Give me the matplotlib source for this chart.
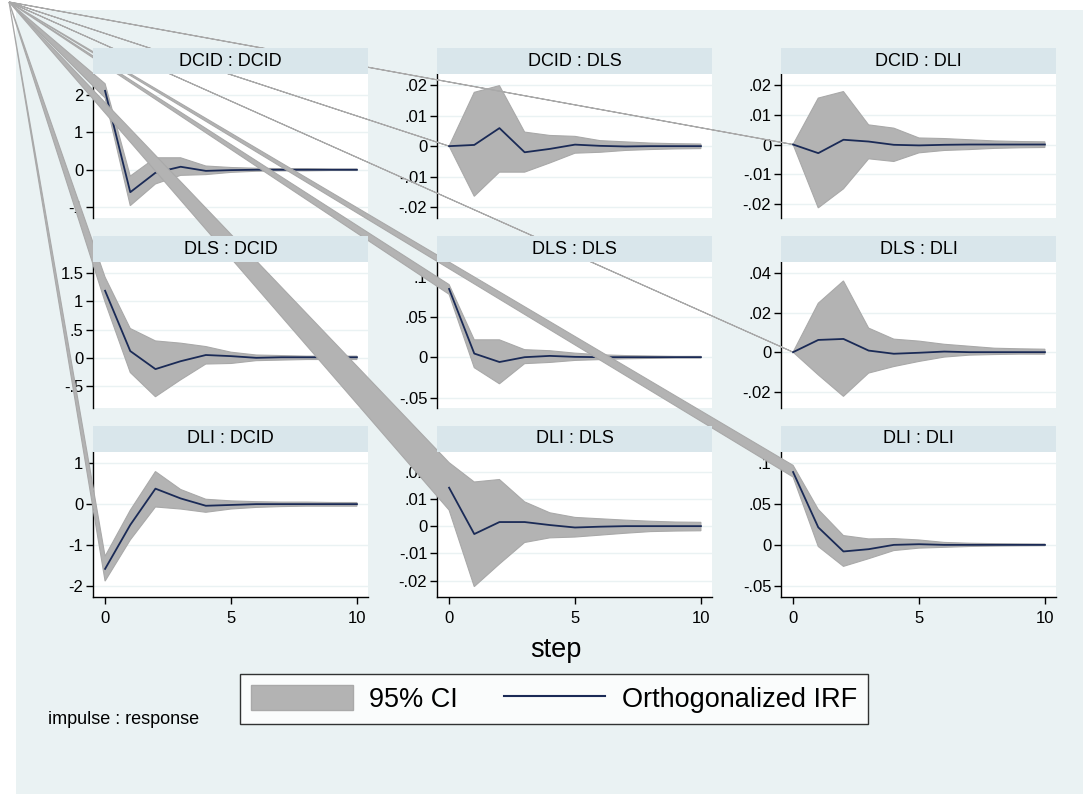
"""Stata-style orthogonalized IRF grid (3x3) with the corner wedge artefact."""

import matplotlib
matplotlib.use("Agg")
import matplotlib.pyplot as plt
from matplotlib.patches import Polygon, Rectangle, Patch
from matplotlib.lines import Line2D
from matplotlib.ticker import FixedLocator, FuncFormatter

plt.rcParams["font.family"] = ["Liberation Sans", "DejaVu Sans"]

BG = "#EAF2F3"
STRIP = "#D9E6EB"
CI_GREY = "#B3B3B3"
CI_EDGE = "#A9A9A9"
NAVY = "#1A2A56"

W, H = 1083, 794

STEPS = list(range(11))
VARS = ["DCID", "DLS", "DLI"]

# impulse DCID
IRF_DCID_DCID = [2.11, -0.60, -0.08, 0.08, -0.03, -0.01, 0.0, 0.0, 0.0, 0.0, 0.0]
HI_DCID_DCID = [2.30, -0.17, 0.32, 0.32, 0.10, 0.06, 0.04, 0.03, 0.03, 0.02, 0.02]
LO_DCID_DCID = [1.92, -0.96, -0.38, -0.15, -0.13, -0.07, -0.04, -0.03, -0.03, -0.02, -0.02]

IRF_DCID_DLS = [0.0, 0.0004, 0.0059, -0.0020, -0.0009, 0.0005, 0.0001, -0.0001, 0.0, 0.0, 0.0]
HI_DCID_DLS = [0.0, 0.0176, 0.0198, 0.0046, 0.0035, 0.0032, 0.0018, 0.0014, 0.0010, 0.0008, 0.0007]
LO_DCID_DLS = [0.0, -0.0164, -0.0085, -0.0085, -0.0055, -0.0023, -0.0020, -0.0014, -0.0011, -0.0009, -0.0008]

IRF_DCID_DLI = [0.0, -0.0029, 0.0016, 0.0010, -0.0001, -0.0003, -0.0001, 0.0, 0.0, 0.0, 0.0]
HI_DCID_DLI = [0.0, 0.0156, 0.0178, 0.0066, 0.0055, 0.0022, 0.0020, 0.0016, 0.0012, 0.0010, 0.0009]
LO_DCID_DLI = [0.0, -0.0213, -0.0149, -0.0048, -0.0057, -0.0028, -0.0020, -0.0017, -0.0013, -0.0011, -0.0010]

# impulse DLS
IRF_DLS_DCID = [1.19, 0.12, -0.20, -0.06, 0.05, 0.03, 0.0, 0.01, 0.01, 0.01, 0.01]
HI_DLS_DCID = [1.43, 0.52, 0.30, 0.26, 0.20, 0.10, 0.05, 0.04, 0.03, 0.03, 0.03]
LO_DLS_DCID = [0.99, -0.26, -0.69, -0.39, -0.11, -0.10, -0.05, -0.04, -0.03, -0.03, -0.03]

IRF_DLS_DLS = [0.0846, 0.0045, -0.0060, 0.0, 0.0016, 0.0004, 0.0, 0.0, 0.0, 0.0, 0.0]
HI_DLS_DLS = [0.0900, 0.0215, 0.0215, 0.0093, 0.0080, 0.0050, 0.0030, 0.0020, 0.0015, 0.0010, 0.0010]
LO_DLS_DLS = [0.0780, -0.0130, -0.0330, -0.0080, -0.0065, -0.0040, -0.0030, -0.0020, -0.0015, -0.0010, -0.0010]

IRF_DLS_DLI = [0.0, 0.0062, 0.0067, 0.0008, -0.0008, -0.0003, 0.0003, 0.0, 0.0, 0.0, 0.0]
HI_DLS_DLI = [0.0, 0.0248, 0.0361, 0.0122, 0.0066, 0.0056, 0.0040, 0.0030, 0.0020, 0.0017, 0.0015]
LO_DLS_DLI = [0.0, -0.0115, -0.0224, -0.0106, -0.0073, -0.0047, -0.0025, -0.0015, -0.0012, -0.0010, -0.0010]

# impulse DLI
IRF_DLI_DCID = [-1.59, -0.51, 0.38, 0.14, -0.04, -0.02, 0.0, 0.0, 0.0, 0.0, 0.0]
HI_DLI_DCID = [-1.28, -0.15, 0.80, 0.36, 0.12, 0.08, 0.06, 0.05, 0.05, 0.04, 0.04]
LO_DLI_DCID = [-1.89, -0.88, -0.07, -0.12, -0.20, -0.12, -0.08, -0.06, -0.05, -0.05, -0.05]

IRF_DLI_DLS = [0.0141, -0.0029, 0.0015, 0.0015, 0.0004, -0.0005, -0.0002, 0.0, 0.0, 0.0, 0.0]
HI_DLI_DLS = [0.0233, 0.0162, 0.0171, 0.0089, 0.0049, 0.0032, 0.0027, 0.0022, 0.0018, 0.0015, 0.0014]
LO_DLI_DLS = [0.0059, -0.0222, -0.0139, -0.0060, -0.0043, -0.0040, -0.0033, -0.0026, -0.0020, -0.0018, -0.0017]

IRF_DLI_DLI = [0.0894, 0.0215, -0.0081, -0.0053, 0.0, 0.0008, 0.0, 0.0, 0.0, 0.0, 0.0]
HI_DLI_DLI = [0.0976, 0.0435, 0.0114, 0.0073, 0.0077, 0.0060, 0.0030, 0.0020, 0.0015, 0.0012, 0.0010]
LO_DLI_DLI = [0.0833, -0.0020, -0.0264, -0.0170, -0.0070, -0.0040, -0.0030, -0.0020, -0.0015, -0.0012, -0.0010]

PANELS = [
    (IRF_DCID_DCID, LO_DCID_DCID, HI_DCID_DCID),
    (IRF_DCID_DLS, LO_DCID_DLS, HI_DCID_DLS),
    (IRF_DCID_DLI, LO_DCID_DLI, HI_DCID_DLI),
    (IRF_DLS_DCID, LO_DLS_DCID, HI_DLS_DCID),
    (IRF_DLS_DLS, LO_DLS_DLS, HI_DLS_DLS),
    (IRF_DLS_DLI, LO_DLS_DLI, HI_DLS_DLI),
    (IRF_DLI_DCID, LO_DLI_DCID, HI_DLI_DCID),
    (IRF_DLI_DLS, LO_DLI_DLS, HI_DLI_DLS),
    (IRF_DLI_DLI, LO_DLI_DLI, HI_DLI_DLI),
]

Y_TICKS = [
    [-1, 0, 1, 2],
    [-0.02, -0.01, 0, 0.01, 0.02],
    [-0.02, -0.01, 0, 0.01, 0.02],
    [-0.5, 0, 0.5, 1, 1.5],
    [-0.05, 0, 0.05, 0.1],
    [-0.02, 0, 0.02, 0.04],
    [-2, -1, 0, 1],
    [-0.02, -0.01, 0, 0.01, 0.02],
    [-0.05, 0, 0.05, 0.1],
]
Y_LIMS = [
    (-1.29, 2.56),
    (-0.0235, 0.0236),
    (-0.0247, 0.0237),
    (-0.89, 1.70),
    (-0.063, 0.118),
    (-0.0283, 0.0457),
    (-2.28, 1.28),
    (-0.026, 0.0272),
    (-0.064, 0.114),
]
X_TICKS = [0, 5, 10]

# pixel layout of the plot regions
COL_LEFT = [93, 437, 781]
ROW_TOP = [74, 262, 452]
ROW_H = [144, 146, 145]
PANEL_W = 275
STRIP_H = 26
CORNER = (9, 2)


def stata_label(v, _pos=None):
    if abs(v) < 1e-12:
        return "0"
    s = f"{v:g}"
    return s.replace("-0.", "-.").replace("0.", ".") if abs(v) < 1 else s


def main():
    fig = plt.figure(figsize=(W / 100, H / 100), dpi=100)
    fig.patch.set_facecolor("white")
    fig.patches.append(
        Rectangle((16 / W, 0), 1 - 16 / W, 1 - 10 / H, transform=fig.transFigure,
                  facecolor=BG, edgecolor="none", zorder=-5)
    )

    corner_disp = fig.transFigure.transform((CORNER[0] / W, 1 - CORNER[1] / H))

    for k, (irf, lo, hi) in enumerate(PANELS):
        r, c = divmod(k, 3)
        left = COL_LEFT[c] / W
        bottom = 1 - (ROW_TOP[r] + ROW_H[r]) / H
        ax = fig.add_axes([left, bottom, PANEL_W / W, ROW_H[r] / H])
        ax.set_facecolor("white")
        ax.set_xlim(-0.48, 10.44)
        ax.set_ylim(*Y_LIMS[k])

        ax.yaxis.set_major_locator(FixedLocator(Y_TICKS[k]))
        ax.yaxis.set_major_formatter(FuncFormatter(stata_label))
        ax.grid(axis="y", color=BG, linewidth=1.0, zorder=0)
        ax.set_axisbelow(True)

        for side in ("top", "right"):
            ax.spines[side].set_visible(False)
        ax.spines["left"].set_linewidth(1.0)
        ax.tick_params(axis="y", labelsize=12, length=5, width=1, pad=2)

        if r == 2:
            ax.xaxis.set_major_locator(FixedLocator(X_TICKS))
            ax.tick_params(axis="x", labelsize=12, length=5, width=1, pad=5)
            ax.spines["bottom"].set_linewidth(1.0)
        else:
            ax.spines["bottom"].set_visible(False)
            ax.set_xticks([])

        # CI area; the polygon also carries the graph corner vertex (rendering artefact)
        corner = ax.transData.inverted().transform(corner_disp)
        verts = [tuple(corner)] + list(zip(STEPS, hi)) + list(zip(STEPS[::-1], lo[::-1]))
        ax.add_patch(Polygon(verts, closed=True, facecolor=CI_GREY, edgecolor=CI_EDGE,
                             linewidth=0.8, clip_on=False, zorder=3))
        ax.plot(STEPS, irf, color=NAVY, linewidth=1.3, zorder=4)

    # title strips sit on top of everything
    for k in range(len(PANELS)):
        r, c = divmod(k, 3)
        x0 = COL_LEFT[c] / W
        y0 = 1 - ROW_TOP[r] / H
        fig.patches.append(
            Rectangle((x0, y0), PANEL_W / W, STRIP_H / H, transform=fig.transFigure,
                      facecolor=STRIP, edgecolor="none", zorder=10)
        )
        fig.text(x0 + PANEL_W / W / 2, y0 + STRIP_H / H / 2, f"{VARS[r]} : {VARS[c]}",
                 ha="center", va="center", fontsize=13, zorder=11)

    fig.text(556 / W, 1 - 650 / H, "step", ha="center", va="center", fontsize=19.5)
    fig.text(48 / W, 1 - 720 / H, "impulse : response", ha="left", va="center", fontsize=13)

    handles = [
        Patch(facecolor=CI_GREY, edgecolor=CI_EDGE, linewidth=1.0),
        Line2D([], [], color=NAVY, linewidth=1.5),
    ]
    leg = fig.legend(handles, ["95% CI", "Orthogonalized IRF"], loc="center",
                     bbox_to_anchor=(554 / W, 1 - 699 / H), ncol=2, fontsize=19.5,
                     frameon=True, fancybox=False, edgecolor="black",
                     handlelength=3.75, handleheight=1.0, handletextpad=0.6,
                     columnspacing=1.7, borderpad=0.4, borderaxespad=0)
    leg.get_frame().set_linewidth(1.0)
    leg.get_frame().set_facecolor("white")

    fig.savefig("out.png", dpi=100, facecolor="white")
    plt.close(fig)


if __name__ == "__main__":
    main()
